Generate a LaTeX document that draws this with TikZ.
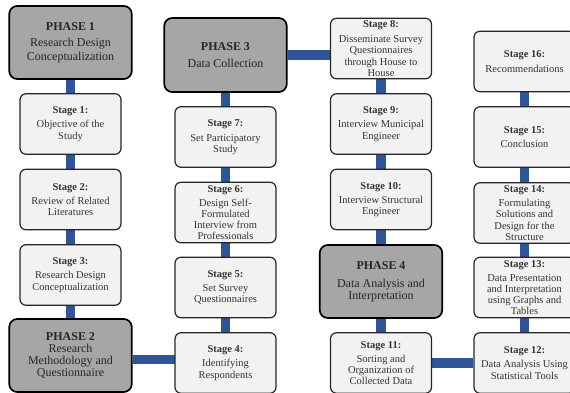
\documentclass[tikz,border=0pt]{standalone}
\usepackage{fontspec}
\setmainfont{Liberation Serif}
\usetikzlibrary{backgrounds}
\definecolor{phasegray}{HTML}{A6A6A6}
\definecolor{stagegray}{HTML}{F2F2F2}
\definecolor{linkblue}{HTML}{2F5597}
\tikzset{
    phase/.style={draw=black, line width=1.7pt, rounded corners=8pt, fill=phasegray, minimum width=122.5pt, minimum height=73pt, align=center, inner sep=1pt, font=\fontsize{12}{12}\selectfont, text=black!85},
    stage/.style={draw=black!85, line width=1.2pt, rounded corners=6pt, fill=stagegray, minimum width=101pt, minimum height=60.5pt, align=center, inner sep=1pt, font=\fontsize{10.5}{11.2}\selectfont, text=black!80},
    link/.style={draw=linkblue, line width=9.5pt},
}

\begin{document}
\begin{tikzpicture}[x=1pt, y=-1pt]
    \newcommand\colA{70.5}
    \newcommand\colB{225.5}
    \newcommand\colC{381}
    \newcommand\colD{524.5}

    \useasboundingbox (0,0) rectangle (570,393);

    % column 1
    \node[phase] (P1) at (\colA, 42.5){\textbf{PHASE 1}\\[4pt]Research Design\\[2pt]Conceptualization};
    \node[stage] (S1) at (\colA, 124){\textbf{Stage 1:}\\[3pt]Objective of the\\Study};
    \node[stage] (S2) at (\colA, 199.5){\textbf{Stage 2:}\\[3pt]Review of Related\\Literatures};
    \node[stage] (S3) at (\colA, 275){\textbf{Stage 3:}\\[3pt]Research Design\\Conceptualization};
    \node[phase] (P2) at (\colA, 355.5){\textbf{PHASE 2}\\Research\\Methodology and\\Questionnaire};

    % column 2
    \node[phase, minimum height=74pt] (P3) at (\colB, 55){\textbf{PHASE 3}\\[5pt]Data Collection};
    \node[stage] (S7) at (\colB, 137){\textbf{Stage 7:}\\[4pt]Set Participatory\\Study};
    \node[stage] (S6) at (\colB, 212.5){\textbf{Stage 6:}\\[3pt]Design Self-\\Formulated\\Interview from\\Professionals};
    \node[stage] (S5) at (\colB, 287.5){\textbf{Stage 5:}\\[3pt]Set Survey\\Questionnaires};
    \node[stage] (S4) at (\colB, 363){\textbf{Stage 4:}\\[3pt]Identifying\\Respondents};

    % column 3
    \node[stage] (S8) at (\colC, 48.5){\textbf{Stage 8:}\\[4pt]Disseminate Survey\\Questionnaires\\through House to\\House};
    \node[stage] (S9) at (\colC, 124){\textbf{Stage 9:}\\[3pt]Interview Municipal\\Engineer};
    \node[stage] (S10) at (\colC, 199.5){\textbf{Stage 10:}\\[3pt]Interview Structural\\Engineer};
    \node[phase] (P4) at (\colC, 281.5){\textbf{PHASE 4}\\[6pt]Data Analysis and\\Interpretation};
    \node[stage] (S11) at (\colC, 363){\textbf{Stage 11:}\\[3pt]Sorting and\\Organization of\\Collected Data};

    % column 4
    \node[stage] (S16) at (\colD, 61.5){\textbf{Stage 16:}\\[4pt]Recommendations};
    \node[stage] (S15) at (\colD, 137){\textbf{Stage 15:}\\[3pt]Conclusion};
    \node[stage] (S14) at (\colD, 213){\textbf{Stage 14:}\\[3pt]Formulating\\Solutions and\\Design for the\\Structure};
    \node[stage] (S13) at (\colD, 287.5){\textbf{Stage 13:}\\[3pt]Data Presentation\\and Interpretation\\using Graphs and\\Tables};
    \node[stage] (S12) at (\colD, 363){\textbf{Stage 12:}\\[3pt]Data Analysis Using\\Statistical Tools};

    % connectors
    \begin{scope}[on background layer]
        \draw[link] (P1) -- (S1) -- (S2) -- (S3) -- (P2);
        \draw[link] ([yshift=-4pt]P2.east) -- ([yshift=-4pt]P2.east -| S4.center);
        \draw[link] (S4) -- (S5) -- (S6) -- (S7) -- (P3);
        \draw[link] (P3) -- (P3 -| S8);
        \draw[link] (S8) -- (S9) -- (S10) -- (P4) -- (S11);
        \draw[link] (S11) -- (S12);
        \draw[link] (S12) -- (S13) -- (S14) -- (S15) -- (S16);
    \end{scope}
\end{tikzpicture}
\end{document}
